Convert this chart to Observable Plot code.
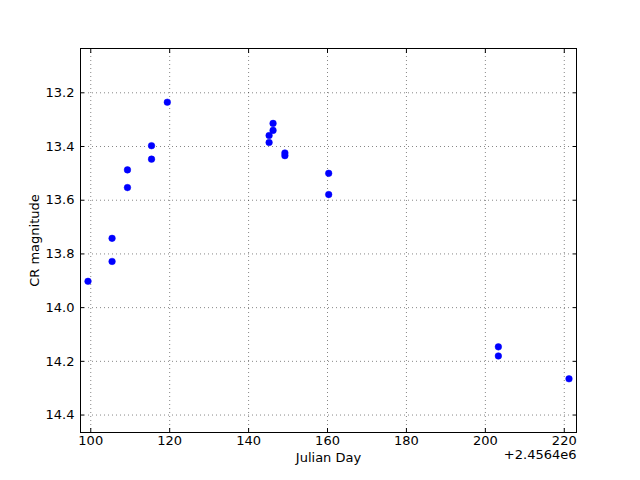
<!DOCTYPE html>
<html>
<head>
<meta charset="utf-8">
<script src="https://cdn.jsdelivr.net/npm/d3@7"></script>
<script src="https://cdn.jsdelivr.net/npm/@observablehq/plot@0.6"></script>
<style>
  html, body { margin: 0; padding: 0; background: #fff; }
  svg { font-family: "DejaVu Sans", sans-serif; }
</style>
</head>
<body>
<div id="chart"></div>
<script>
// Julian Day offset from 2456400
const julianDay = [99.3, 105.4, 105.4, 109.3, 109.3, 115.4, 115.4, 119.4,
                   145.2, 145.2, 146.2, 146.2, 149.2, 149.2, 160.3, 160.3,
                   203.3, 203.3, 221.2];
const crMag = [13.902, 13.742, 13.828, 13.487, 13.553, 13.397, 13.447, 13.235,
               13.385, 13.359, 13.340, 13.314, 13.424, 13.434, 13.500, 13.579,
               14.146, 14.180, 14.265];
const xTicks = [100, 120, 140, 160, 180, 200, 220];
const yTicks = [13.2, 13.4, 13.6, 13.8, 14.0, 14.2, 14.4];
const xLabel = "Julian Day";
const yLabel = "CR magnitude";
const offsetLabel = "+2.4564e6";

const data = julianDay.map((d, i) => ({jd: d, mag: crMag[i]}));

const chart = Plot.plot({
  width: 640,
  height: 480,
  marginLeft: 80,
  marginRight: 64,
  marginTop: 48,
  marginBottom: 48,
  style: {fontFamily: "DejaVu Sans, sans-serif", fontSize: "13px", color: "#000", background: "#fff"},
  x: {domain: [97.4, 223.1], ticks: xTicks},
  y: {domain: [13.035, 14.465], reverse: true, ticks: yTicks},
  marks: [
    Plot.ruleX(xTicks, {stroke: "#000", strokeOpacity: 0.6, strokeWidth: 0.8, strokeDasharray: "1,3"}),
    Plot.ruleY(yTicks, {stroke: "#000", strokeOpacity: 0.6, strokeWidth: 0.8, strokeDasharray: "1,3"}),
    Plot.axisX({anchor: "bottom", ticks: xTicks, tickSize: -4, tickFormat: () => "", label: null}),
    Plot.text(xTicks, {x: d => d, frameAnchor: "bottom", dy: 12, fontSize: 13, textAnchor: "middle"}),
    Plot.axisX({anchor: "top", ticks: xTicks, tickSize: -4, tickFormat: () => "", label: null}),
    Plot.axisY({anchor: "left", ticks: yTicks, tickSize: -4, tickPadding: 10, tickFormat: d3.format(".1f"), label: null, fontSize: 13}),
    Plot.axisY({anchor: "right", ticks: yTicks, tickSize: -4, tickFormat: () => "", label: null}),
    Plot.frame({stroke: "#000", strokeWidth: 1}),
    Plot.dot(data, {x: "jd", y: "mag", r: 3.3, fill: "#0000ff", stroke: "#0000ff", strokeWidth: 0.5}),
    Plot.text([xLabel], {frameAnchor: "bottom", dy: 29, fontSize: 13, textAnchor: "middle"}),
    Plot.text([offsetLabel], {frameAnchor: "bottom-right", dy: 26, fontSize: 13, textAnchor: "end"}),
    Plot.text([yLabel], {frameAnchor: "left", dx: -46, rotate: -90, fontSize: 13, textAnchor: "middle"})
  ]
});
document.getElementById("chart").appendChild(chart);
</script>
</body>
</html>
